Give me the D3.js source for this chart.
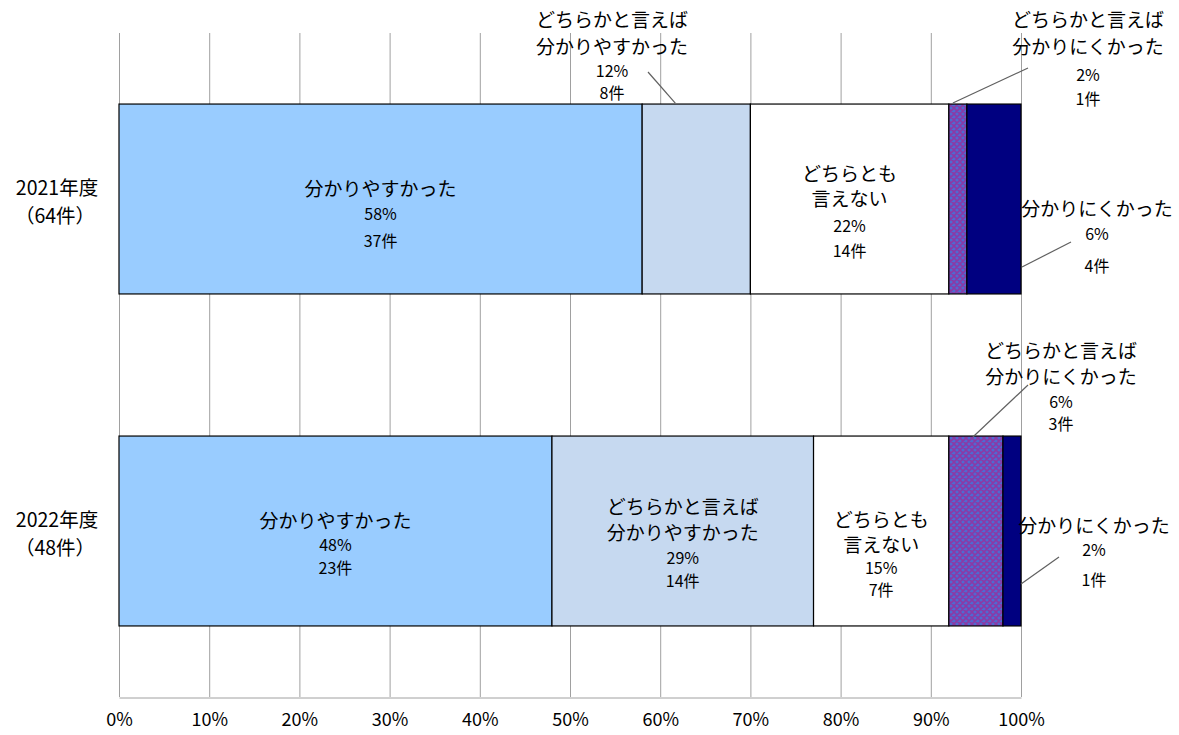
<!DOCTYPE html>
<html><head><meta charset="utf-8">
<script src="https://cdn.jsdelivr.net/npm/d3@7"></script>
<style>
html,body{margin:0;padding:0;background:#fff;}
text{font-family:"Noto Sans CJK JP","Noto Sans",sans-serif;fill:#000;}
</style></head>
<body><svg id="c" width="1179" height="735"></svg>
<script>
const years = ["2021年度", "2022年度"];
const totals = [64, 48];
const categories = ["分かりやすかった", "どちらかと言えば\n分かりやすかった", "どちらとも\n言えない", "どちらかと言えば\n分かりにくかった", "分かりにくかった"];
const pct2021 = [58, 12, 22, 2, 6];
const cnt2021 = [37, 8, 14, 1, 4];
const pct2022 = [48, 29, 15, 6, 2];
const cnt2022 = [23, 14, 7, 3, 1];
const xTicks = [0, 10, 20, 30, 40, 50, 60, 70, 80, 90, 100];
const colors = ["#99CCFF", "#C6D9F0", "#FFFFFF", "url(#hatch)", "#000080"];

const svg = d3.select("#c");
const defs = svg.append("defs");
const pat = defs.append("pattern").attr("id","hatch").attr("patternUnits","userSpaceOnUse").attr("width",6).attr("height",6);
pat.append("rect").attr("width",6).attr("height",6).attr("fill","#4F6AD2");
pat.append("path").attr("d","M0,0L6,6M6,0L0,6M-1,5L1,7M5,-1L7,1M-1,1L1,-1M5,7L7,5").attr("stroke","#8A3AA6").attr("stroke-width",1.6);

const x = d3.scaleLinear().domain([0,100]).range([119,1021]);
const y = d3.scaleBand().domain(years).range([33,697]).paddingInner(0.428).paddingOuter(0.214);

// gridlines
svg.append("g").selectAll("line").data(xTicks).join("line")
  .attr("x1",d=>x(d)+0.5).attr("x2",d=>x(d)+0.5).attr("y1",33).attr("y2",697)
  .attr("stroke","#A0A0A0").attr("stroke-width",1);

// axis
const axis = d3.axisBottom(x).tickValues(xTicks).tickFormat(d=>d+"%").tickSize(0).tickPadding(16);
const ag = svg.append("g").attr("transform","translate(0,697.5)").call(axis);
ag.select(".domain").attr("stroke","#A0A0A0");
ag.selectAll("text").attr("font-size",18).attr("font-family","'Noto Sans CJK JP'").attr("fill","#000");

// data rows
const rows = [
  {year: years[0], total: totals[0], pct: pct2021, cnt: cnt2021},
  {year: years[1], total: totals[1], pct: pct2022, cnt: cnt2022}
];
rows.forEach(r => {
  let acc = 0;
  r.segs = r.pct.map((p,i) => { const s = {x0: acc, x1: acc+p, p, c: r.cnt[i], i}; acc += p; return s; });
});

const bars = svg.append("g");
rows.forEach(r => {
  bars.selectAll(null).data(r.segs).join("rect")
    .attr("x",d=>x(d.x0)).attr("width",d=>x(d.x1)-x(d.x0))
    .attr("y",y(r.year)).attr("height",y.bandwidth())
    .attr("fill",d=>colors[d.i]).attr("stroke","#000").attr("stroke-width",1.2);
});

// y labels
rows.forEach(r => {
  const cy = y(r.year) + y.bandwidth()/2;
  const g = svg.append("g").attr("font-size",19.5).attr("text-anchor","middle");
  g.append("text").attr("x",57).attr("y",cy-13).attr("dominant-baseline","central").text(r.year);
  g.append("text").attr("x",55).attr("y",cy+15).attr("dominant-baseline","central").text("（"+r.total+"件）");
});

function label(cx, ys, seg, anchor) {
  const lines = categories[seg.i].split("\n").map(t=>({t, fs:19}))
     .concat([{t: seg.p+"%", fs:16},{t: seg.c+"件", fs:16}]);
  const g = svg.append("g").attr("text-anchor", anchor||"middle");
  lines.forEach((l,k)=>{
    g.append("text").attr("x",cx).attr("y",ys[k]).attr("dominant-baseline","central")
     .attr("font-size",l.fs).text(l.t);
  });
}
function leader(x1,y1,x2,y2){
  svg.append("line").attr("x1",x1).attr("y1",y1).attr("x2",x2).attr("y2",y2)
   .attr("stroke","#606060").attr("stroke-width",1.2);
}
const mid = s => x((s.x0+s.x1)/2);
// 2021
{
  const r = rows[0], top = y(r.year), s = r.segs;
  label(mid(s[0]), [187,213,240], s[0]);
  label(mid(s[2]), [172,197,225,250], s[2]);
  label(612, [18,45,70,92], s[1]);
  leader(mid(s[1])-21, top-1, 648, 72);
  label(1088, [18,45,74,98], s[3]);
  leader(mid(s[3])-5, top-1, 1028, 68);
  label(1097, [207,233,265], s[4]);
  leader(x(100)+1, 267, 1071, 242);
}
// 2022
{
  const r = rows[1], top = y(r.year), s = r.segs;
  label(mid(s[0]), [519,544,567], s[0]);
  label(mid(s[1]), [505,531,557,580], s[1]);
  label(mid(s[2]), [518,543,567,589], s[2]);
  label(1061, [349,375,401,423], s[3]);
  leader(mid(s[3])-3, top+1, 1028, 385);
  label(1094, [524,549,579], s[4]);
  leader(x(100), 584, 1059, 557);
}
</script></body></html>
